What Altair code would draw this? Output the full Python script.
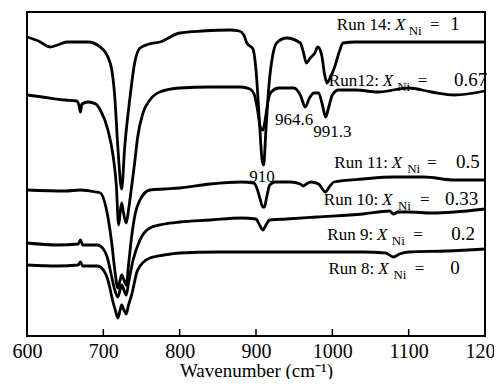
import altair as alt
import pandas as pd

# ---------------- data (wavenumber, cm^-1 ; offset transmittance, a.u.) ----------------
wn_14 = [600, 615, 630, 640, 652, 680, 696, 709, 715, 719, 724, 728, 735, 741, 748, 760, 774, 800, 830, 866,
         878, 884, 888, 896, 900, 904, 908, 910, 913, 917, 922, 927, 940, 958, 962, 966, 971, 977, 981, 986,
         990, 993, 997, 1003, 1009, 1014, 1030, 1100, 1200]
tr_14 = [298, 294, 288, 290, 293, 293, 288, 272, 238, 188, 146, 188, 238, 272, 287, 291, 293, 302, 304, 305,
         304, 300, 292, 286, 265, 220, 175, 170, 205, 250, 280, 292, 297, 292, 283, 272, 277, 282, 288, 280,
         260, 252, 257, 268, 283, 292, 293, 293, 293]

wn_12 = [600, 620, 650, 665, 668, 670, 672, 680, 690, 696, 706, 713, 717, 720, 722, 724, 726, 730, 733, 737,
         741, 745, 752, 761, 774, 800, 840, 880, 892, 898, 902, 906, 909, 912, 916, 920, 930, 950, 958, 964.6,
         970, 976, 982, 987, 991.3, 995, 1000, 1008, 1030, 1060, 1100, 1130, 1160, 1200]
tr_12 = [240, 238, 235, 234, 230, 223, 231, 233, 231, 225, 205, 178, 150, 110, 122, 132, 124, 112, 125, 148,
         172, 198, 222, 235, 243, 247, 248, 248, 246, 240, 225, 207, 205, 215, 235, 243, 247, 247, 240, 228,
         237, 242, 242, 230, 218, 227, 240, 245, 245, 243, 247, 243, 240, 244]

wn_11 = [600, 650, 670, 690, 696, 705, 711, 715, 719, 722, 724, 727, 730, 733, 737, 742, 748, 761, 780, 800,
         840, 880, 897, 901, 905, 909, 911, 914, 918, 925, 945, 958, 962, 966, 972, 982, 987, 991, 996, 1002,
         1040, 1080, 1120, 1160, 1200]
tr_11 = [145, 144, 145, 143, 142, 122, 92, 65, 47, 55, 60, 55, 50, 70, 98, 122, 135, 145, 146, 147,
         151, 153, 152, 147, 137, 128, 128, 138, 150, 153, 153, 151, 149, 151, 153, 151, 146, 143, 148, 153,
         156, 158, 158, 155, 155]

wn_9 = [600, 640, 667, 670, 673, 692, 700, 705, 711, 715, 719, 722, 724, 727, 730, 733, 739, 748, 761, 780,
        800, 840, 880, 900, 904, 909, 913, 918, 940, 980, 1040, 1075, 1080, 1086, 1100, 1130, 1160, 1200]
tr_9 = [92, 90, 91, 95, 90, 90, 86, 78, 58, 45, 38, 45, 50, 45, 40, 52, 75, 95, 107, 111,
        113, 115, 117, 116, 111, 105, 110, 115, 116, 118, 121, 124, 121, 123, 123, 122, 123, 126]

wn_8 = [600, 640, 667, 670, 673, 692, 700, 706, 713, 716, 719, 722, 724, 727, 730, 733, 737, 745, 761, 780,
        800, 850, 900, 950, 1000, 1040, 1070, 1080, 1088, 1100, 1150, 1200]
tr_8 = [70, 69, 70, 73, 69, 69, 65, 55, 32, 24, 17, 25, 30, 25, 21, 30, 40, 65, 77, 80,
        82, 83, 83, 83, 83, 83, 82, 78, 81, 83, 84, 86]

tick_values = [600, 700, 800, 900, 1000, 1100, 1200]
inner_ticks = [700, 800, 900, 1000, 1100]

run_names = ["Run 14:", "Run12:", "Run 11:", "Run 10:", "Run 9:", "Run 8:"]
x_ni_values = ["1", "0.67", "0.5", "0.33", "0.2", "0"]
peak_labels = ["964.6", "991.3", "910"]

# ---------------- annotation anchors (wavenumber, a.u.) ----------------
lab_x_x = [1082, 1066, 1078, 1065, 1058.5, 1060]      # italic X (left edge)
lab_sub_x = [1100, 1085, 1098, 1086, 1078, 1080]      # subscript Ni (left edge)
lab_eq_x = [1128, 1112, 1124, 1115, 1106, 1108]       # "=" (left edge)
lab_num_x = [1167, 1203, 1193, 1191, 1187, 1167]      # value (right edge)
lab_y = [305, 249, 167, 130, 95, 61]
sub_drop = 5
main_gap = 5

peak_x = [925, 975, 908]
peak_y = [210, 198, 153]
peak_align = ["left", "left", "center"]

# ---------------- build tables ----------------
series = [("14", wn_14, tr_14), ("12", wn_12, tr_12), ("11", wn_11, tr_11),
          ("9", wn_9, tr_9), ("8", wn_8, tr_8)]
rows = []
for name, xs, ys in series:
    for a, b in zip(xs, ys):
        rows.append({"run": name, "wn": a, "tr": b})
df = pd.DataFrame(rows)

lab_rows = []
for i in range(len(run_names)):
    lab_rows.append({"wn": lab_x_x[i] - main_gap, "tr": lab_y[i], "t": run_names[i], "k": "main"})
    lab_rows.append({"wn": lab_x_x[i], "tr": lab_y[i], "t": "X", "k": "ital"})
    lab_rows.append({"wn": lab_sub_x[i], "tr": lab_y[i] - sub_drop, "t": "Ni", "k": "sub"})
    lab_rows.append({"wn": lab_eq_x[i], "tr": lab_y[i], "t": "=", "k": "eq"})
    lab_rows.append({"wn": lab_num_x[i], "tr": lab_y[i], "t": x_ni_values[i], "k": "num"})
for i in range(len(peak_labels)):
    lab_rows.append({"wn": peak_x[i], "tr": peak_y[i], "t": peak_labels[i],
                     "k": "peak_" + peak_align[i]})
labs = pd.DataFrame(lab_rows)

ticks_df = pd.DataFrame({"t": inner_ticks})

W, H = 458, 324
FONT = "Liberation Serif"
xscale = alt.Scale(domain=[600, 1200], nice=False, zero=False)
yscale = alt.Scale(domain=[-1, 323], nice=False, zero=False)

xaxis = alt.Axis(values=tick_values, format="d", labelFont=FONT, labelFontSize=20,
                 labelColor="black", labelPadding=5, labelFlush=False, labelOverlap=False,
                 ticks=False, domain=False, grid=False,
                 title="Wavenumber (cm\u207b\u00b9)", titleFont=FONT, titleFontSize=19,
                 titleFontWeight="normal", titleColor="black", titlePadding=0)

lines = alt.Chart(df).mark_line(color="black", strokeWidth=2.8, interpolate="monotone").encode(
    x=alt.X("wn:Q", scale=xscale, axis=xaxis),
    y=alt.Y("tr:Q", scale=yscale, axis=None),
    detail="run:N",
)

rules = alt.Chart(ticks_df).mark_rule(color="black", strokeWidth=1.5).encode(
    x=alt.X("t:Q", scale=xscale),
    y=alt.value(H),
    y2=alt.value(H - 7),
)


def text_layer(kind, **kw):
    return alt.Chart(labs).transform_filter(alt.datum.k == kind).mark_text(
        font=FONT, color="black", baseline="alphabetic", **kw
    ).encode(
        x=alt.X("wn:Q", scale=xscale),
        y=alt.Y("tr:Q", scale=yscale),
        text="t:N",
    )


t_main = text_layer("main", align="right", fontSize=17)
t_ital = text_layer("ital", align="left", fontSize=17, fontStyle="italic")
t_sub = text_layer("sub", align="left", fontSize=13)
t_eq = text_layer("eq", align="left", fontSize=17)
t_num = text_layer("num", align="right", fontSize=19)
t_pl = text_layer("peak_left", align="left", fontSize=17)
t_pc = text_layer("peak_center", align="center", fontSize=17)

chart = alt.layer(lines, rules, t_main, t_ital, t_sub, t_eq, t_num, t_pl, t_pc).properties(
    width=W, height=H,
    padding={"left": 19, "top": 4, "right": 9, "bottom": 43},
    autosize=alt.AutoSizeParams(type="none"),
    background="white",
).configure_view(stroke="black", strokeWidth=2)

chart.save("out.html", embed_options={"renderer": "svg", "actions": False})
